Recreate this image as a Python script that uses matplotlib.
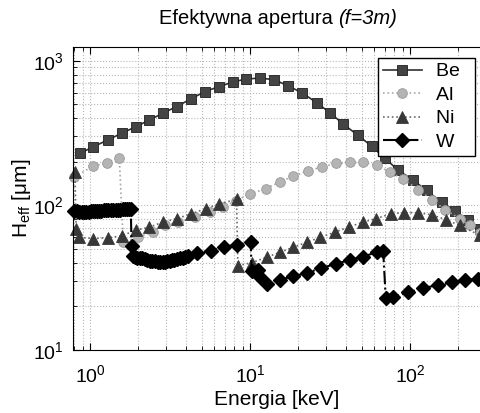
import matplotlib
matplotlib.use("Agg")
import matplotlib.pyplot as plt

plt.rcParams['font.family'] = ['Liberation Sans', 'DejaVu Sans']
plt.rcParams['mathtext.fontset'] = 'custom'
plt.rcParams['mathtext.rm'] = 'Liberation Sans'
plt.rcParams['mathtext.it'] = 'Liberation Sans:italic'

# energies [keV] and effective aperture [um]
be_e = [0.866, 1.049, 1.29, 1.578, 1.939, 2.349, 2.847, 3.483, 4.276, 5.234, 6.43, 7.79,
        9.44, 11.55, 14.19, 17.35, 21.3, 26.1, 31.6, 38.3, 47.1, 57.6, 69.8, 84.5, 104.9,
        127, 157.8, 191, 230, 274]
be_h = [229, 254, 283, 315, 350, 389, 433, 482, 545, 612, 663, 712, 747, 759, 739, 670,
        597, 513, 437, 365, 306, 257, 211, 175, 149, 127, 105, 92, 79, 69]

al_e = [0.80, 1.049, 1.27, 1.525, 1.615, 2.003, 2.475, 2.94, 3.55, 4.53, 5.62, 6.8, 8.17,
        10.0, 12.6, 15.3, 18.7, 22.9, 28.3, 34.6, 41.9, 50.9, 61.9, 75.0, 91.0, 112.8,
        136.8, 165.5, 205, 237, 274]
al_h = [158, 187, 197, 214, 55.6, 60.3, 65.3, 72.6, 76.5, 83, 89.8, 97.3, 108, 120, 130.6,
        145, 159, 173, 184.5, 195, 198, 198, 190, 170, 151, 128.5, 109.6, 93.3, 80.9,
        72.7, 64]

ni_e = [0.806, 0.82, 0.85, 1.049, 1.29, 1.58, 1.94, 2.35, 2.85, 3.48, 4.3, 5.3, 6.45, 8.25,
        8.4, 10.3, 12.7, 15.4, 18.6, 22.7, 27.6, 34.0, 41.4, 50.8, 61.3, 75.8, 91.9, 112,
        136.5, 168, 205, 274]
ni_h = [169, 69, 60, 59, 59.7, 61.5, 67.5, 70.6, 76.6, 80.9, 87.6, 94.9, 102.7, 110,
        38.3, 40.2, 43.8, 47.4, 51.3, 55.6, 60.3, 65.3, 70.7, 76.6, 80.9, 87.5, 89, 89,
        86.1, 79.6, 72.6, 62]

w_e = [0.80, 0.83, 0.86, 0.89, 0.92, 0.95, 0.98, 1.01, 1.04, 1.07, 1.10, 1.14, 1.18, 1.22,
       1.26, 1.30, 1.35, 1.40, 1.45, 1.50, 1.55, 1.60, 1.65, 1.70, 1.75, 1.80,
       1.82,
       1.86, 1.92, 1.98, 2.05, 2.12, 2.2, 2.28, 2.36, 2.45, 2.55, 2.65, 2.75, 2.85, 2.95,
       3.05, 3.15, 3.25, 3.35, 3.5, 3.65, 3.8, 3.95, 4.1,
       4.64, 5.67, 6.88, 8.33, 10.1, 10.25, 11.2, 11.6, 12.7, 15.4, 18.6, 22.7, 28.0, 34.4,
       42.2, 50.8, 61.9, 68.0, 70.6, 78.5, 97.5, 121, 149, 182, 220, 265]
w_h = [91.0, 90.8, 90.6, 90.5, 90.5, 90.6, 90.7, 90.9, 91.1, 91.3, 91.5, 91.8, 92.0, 92.2,
       92.4, 92.6, 92.8, 93.0, 93.2, 93.4, 93.6, 93.8, 94.0, 94.2, 94.4, 94.6,
       52,
       44.5, 44.0, 43.5, 43.2, 43.0, 42.7, 42.0, 41.5, 41.2, 41.0, 40.9, 40.8, 40.8, 40.9,
       41.0, 41.3, 41.6, 42.0, 42.5, 43.0, 43.5, 44.0, 44.5,
       46.6, 48.7, 51.9, 53.4, 56, 35, 36, 32, 28.6, 30.6, 32.3, 34.1, 36.9, 39.4,
       42.0, 44.2, 47.4, 48.7, 22.8, 23.3, 25.0, 26.8, 28.1, 29.3, 30.6, 31.0]

fig = plt.figure(figsize=(4.81, 4.13), dpi=100)
ax = fig.add_axes([0.1524, 0.1525, 0.8476, 0.7344])

ax.plot(be_e, be_h, '-', color='#303030', lw=1.2, marker='s', ms=7,
        mfc='#444444', mec='#1e1e1e', mew=0.6, label='Be  ', clip_on=False)
ax.plot(al_e, al_h, ':', color='#a8a8a8', lw=1.2, marker='o', ms=7,
        mfc='#b4b4b4', mec='#9a9a9a', mew=0.6, label='Al  ', clip_on=False)
ax.plot(ni_e, ni_h, ':', color='#6a6a6a', lw=1.2, marker='^', ms=8,
        mfc='#383838', mec='#383838', mew=0.6, label='Ni  ', clip_on=False)
ax.plot(w_e, w_h, '-.', color='black', lw=1.5, marker='D', ms=7,
        mfc='black', mec='black', label='W  ', clip_on=False)

ax.set_xscale('log')
ax.set_yscale('log')
ax.set_xlim(0.787, 278)
ax.set_ylim(10, 1250)

ax.grid(True, which='both', linestyle=':', color='#b8b8b8', lw=0.8)
ax.tick_params(which='both', direction='in', top=True, right=False, labelsize=14)
ax.tick_params(axis='x', pad=10)
ax.tick_params(axis='y', pad=7)
ax.tick_params(which='major', length=5)
ax.tick_params(which='minor', length=3)
ax.spines['right'].set_visible(False)

ax.set_xlabel('Energia [keV]', fontsize=15, labelpad=3)
ax.set_ylabel(r'H$_\mathregular{eff}$ [μm]', fontsize=15, labelpad=0)

t1 = fig.text(0.703, 0.955, 'Efektywna apertura ', ha='right', va='center', fontsize=14.5)
ax.annotate('(f=3m)', xy=(1, 0.5), xycoords=t1, ha='left', va='center',
            fontsize=14.5, fontstyle='italic')

leg = ax.legend(loc='upper right', bbox_to_anchor=(0.9853, 0.9627), borderaxespad=0,
                fontsize=14, fancybox=False, edgecolor='black', framealpha=1,
                handlelength=2.0, handletextpad=0.7, labelspacing=0.3, borderpad=0.25)
leg.get_frame().set_linewidth(1.0)

fig.savefig('out.png', dpi=100)
